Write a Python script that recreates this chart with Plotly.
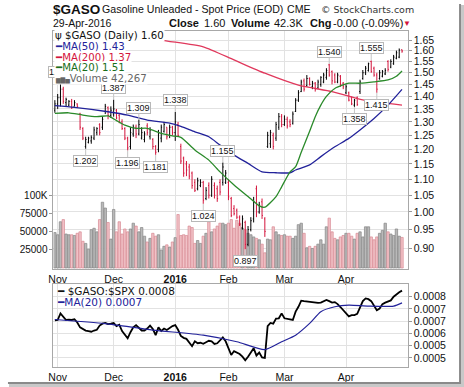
import plotly.graph_objects as go
import math

W, H = 464, 387


def px(x):
    return x / W


def py(y):
    return 1 - y / H


# ---------------- data ----------------
# trading-day index 0 = 30-Oct-2015 ... 124 = 29-Apr-2016
month_idx = [1, 21, 43, 62, 82, 104]
month_lbl = ["Nov", "Dec", "<b>2016</b>", "Feb", "Mar", "Apr"]

opens = [1.345, 1.370, 1.395, 1.430, 1.375, 1.365, 1.380, 1.360, 1.370, 1.330,
         1.275, 1.210, 1.225, 1.230, 1.240, 1.260, 1.290, 1.280, 1.340, 1.355,
         1.325, 1.330, 1.345, 1.325, 1.300, 1.275, 1.240, 1.210, 1.255, 1.280,
         1.255, 1.240, 1.235, 1.285, 1.245, 1.235, 1.210, 1.200, 1.240, 1.265,
         1.280, 1.250, 1.280, 1.260, 1.290, 1.210, 1.170, 1.150, 1.140, 1.120,
         1.090, 1.070, 1.080, 1.090, 1.040, 1.080, 1.050, 1.080, 1.070, 1.090,
         1.090, 1.090, 1.090, 1.040, 1.010, 1.005, 0.985, 0.955, 0.970, 0.910,
         0.950, 0.980, 1.070, 1.000, 1.030, 0.980, 1.210, 1.220, 1.250, 1.240,
         1.280, 1.320, 1.290, 1.310, 1.300, 1.295, 1.340, 1.385, 1.420, 1.465,
         1.445, 1.475, 1.440, 1.455, 1.435, 1.450, 1.460, 1.480, 1.535, 1.505,
         1.490, 1.460, 1.485, 1.455, 1.415, 1.415, 1.395, 1.365, 1.395, 1.420,
         1.475, 1.500, 1.510, 1.550, 1.520, 1.490, 1.475, 1.485, 1.495, 1.550,
         1.525, 1.540, 1.565, 1.570, 1.604]
highs = [1.385, 1.410, 1.452, 1.440, 1.395, 1.385, 1.390, 1.385, 1.372, 1.335,
         1.280, 1.245, 1.245, 1.250, 1.282, 1.280, 1.295, 1.320, 1.370, 1.360,
         1.360, 1.387, 1.350, 1.330, 1.310, 1.280, 1.245, 1.280, 1.290, 1.290,
         1.309, 1.280, 1.265, 1.295, 1.280, 1.240, 1.215, 1.270, 1.290, 1.300,
         1.280, 1.290, 1.285, 1.338, 1.300, 1.220, 1.175, 1.160, 1.150, 1.125,
         1.100, 1.105, 1.100, 1.095, 1.075, 1.090, 1.110, 1.090, 1.080, 1.100,
         1.155, 1.130, 1.100, 1.045, 1.020, 1.010, 0.990, 0.990, 0.975, 0.960,
         0.985, 1.045, 1.080, 1.030, 1.040, 0.985, 1.263, 1.270, 1.260, 1.300,
         1.334, 1.330, 1.325, 1.320, 1.310, 1.340, 1.393, 1.426, 1.470, 1.475,
         1.490, 1.480, 1.465, 1.460, 1.470, 1.485, 1.500, 1.520, 1.540, 1.510,
         1.498, 1.500, 1.490, 1.460, 1.450, 1.420, 1.400, 1.390, 1.400, 1.470,
         1.512, 1.530, 1.545, 1.555, 1.527, 1.500, 1.512, 1.512, 1.520, 1.556,
         1.560, 1.580, 1.600, 1.610, 1.605]
lows = [1.335, 1.350, 1.360, 1.370, 1.360, 1.360, 1.350, 1.360, 1.355, 1.270,
        1.233, 1.202, 1.221, 1.220, 1.233, 1.250, 1.250, 1.270, 1.330, 1.310,
        1.315, 1.320, 1.310, 1.295, 1.270, 1.233, 1.196, 1.200, 1.245, 1.240,
        1.250, 1.235, 1.225, 1.250, 1.235, 1.200, 1.181, 1.190, 1.225, 1.260,
        1.235, 1.240, 1.250, 1.230, 1.245, 1.150, 1.108, 1.110, 1.100, 1.070,
        1.060, 1.065, 1.075, 1.024, 1.035, 1.040, 1.045, 1.040, 1.030, 1.050,
        1.080, 1.085, 1.035, 0.985, 0.990, 0.980, 0.960, 0.950, 0.897, 0.905,
        0.945, 0.970, 0.985, 0.995, 0.980, 0.930, 1.205, 1.205, 1.200, 1.230,
        1.270, 1.280, 1.285, 1.275, 1.280, 1.290, 1.338, 1.378, 1.418, 1.420,
        1.440, 1.445, 1.430, 1.420, 1.430, 1.440, 1.455, 1.470, 1.483, 1.450,
        1.455, 1.455, 1.440, 1.430, 1.410, 1.380, 1.365, 1.358, 1.362, 1.410,
        1.470, 1.490, 1.505, 1.500, 1.483, 1.415, 1.470, 1.480, 1.490, 1.505,
        1.520, 1.535, 1.560, 1.565, 1.590]
closes = [1.370, 1.395, 1.430, 1.380, 1.388, 1.380, 1.355, 1.375, 1.360, 1.280,
          1.240, 1.235, 1.240, 1.242, 1.270, 1.275, 1.260, 1.310, 1.360, 1.325,
          1.345, 1.350, 1.315, 1.300, 1.275, 1.240, 1.205, 1.260, 1.280, 1.255,
          1.290, 1.260, 1.255, 1.260, 1.270, 1.210, 1.190, 1.260, 1.280, 1.290,
          1.245, 1.280, 1.260, 1.300, 1.250, 1.160, 1.120, 1.130, 1.110, 1.080,
          1.065, 1.095, 1.090, 1.035, 1.065, 1.050, 1.100, 1.050, 1.040, 1.060,
          1.140, 1.120, 1.045, 0.990, 0.995, 0.985, 0.965, 0.980, 0.910, 0.950,
          0.975, 1.030, 1.000, 1.020, 0.990, 0.945, 1.250, 1.260, 1.210, 1.290,
          1.320, 1.290, 1.310, 1.285, 1.290, 1.330, 1.385, 1.415, 1.460, 1.430,
          1.475, 1.450, 1.455, 1.430, 1.460, 1.480, 1.490, 1.510, 1.490, 1.465,
          1.460, 1.490, 1.450, 1.440, 1.440, 1.385, 1.370, 1.385, 1.368, 1.460,
          1.500, 1.520, 1.540, 1.505, 1.490, 1.430, 1.500, 1.505, 1.510, 1.515,
          1.550, 1.570, 1.590, 1.602, 1.598]
volume = [49000, 46000, 64000, 67000, 47000, 46000, 46000, 45000, 48000, 50000,
          37000, 34000, 26000, 53000, 55000, 50000, 67000, 91000, 83000, 63000,
          40000, 81000, 50000, 64000, 47000, 54000, 50000, 54000, 62000, 58000,
          50000, 56000, 44000, 36000, 41000, 48000, 44000, 46000, 25000, 30000,
          32000, 29000, 36000, 42000, 74000, 45000, 46000, 45000, 58000, 56000,
          34000, 38000, 34000, 44000, 48000, 64000, 50000, 54000, 58000, 62000,
          62000, 60000, 62000, 67000, 55000, 66000, 62000, 55000, 53000, 48000,
          46000, 43000, 41000, 39000, 33000, 21000, 40000, 39000, 57000, 50000,
          46000, 45000, 46000, 44000, 44000, 41000, 44000, 60000, 62000, 48000,
          28000, 30000, 27000, 30000, 33000, 39000, 33000, 57000, 69000, 50000,
          41000, 39000, 43000, 45000, 48000, 48000, 44000, 40000, 48000, 50000,
          43000, 57000, 57000, 43000, 39000, 43000, 48000, 52000, 62000, 50000,
          47000, 45000, 54000, 44000, 42267]

ma50_idx = [0, 7, 19, 26, 33, 41, 45, 50, 55, 59, 64, 69, 74, 79, 84, 86, 91, 95, 100, 105, 109, 114, 119, 124]
ma50_val = [1.363, 1.356, 1.339, 1.326, 1.307, 1.295, 1.283, 1.263, 1.245, 1.215, 1.180, 1.152,
            1.124, 1.121, 1.121, 1.130, 1.147, 1.175, 1.209, 1.239, 1.270, 1.313, 1.365, 1.429]
ma200_idx = [20, 30, 38, 53, 64, 75, 87, 99, 110, 124]
ma200_val = [1.700, 1.675, 1.650, 1.618, 1.557, 1.498, 1.447, 1.420, 1.386, 1.365]
ma20_idx = [0, 5, 10, 15, 19, 22, 25, 29, 33, 38, 42, 45, 50, 55, 59, 64, 69, 73, 75, 79, 81, 84,
            86, 88, 91, 93, 95, 97, 100, 105, 109, 114, 119, 122, 124]
ma20_val = [1.333, 1.335, 1.326, 1.320, 1.323, 1.305, 1.288, 1.276, 1.276, 1.257, 1.248, 1.243,
            1.198, 1.163, 1.124, 1.082, 1.046, 1.018, 1.014, 1.046, 1.076, 1.124, 1.141, 1.190,
            1.265, 1.320, 1.365, 1.400, 1.433, 1.455, 1.455, 1.461, 1.469, 1.485, 1.508]

ratio = [0.000704, 0.000705, 0.000732, 0.000720, 0.000705, 0.000706, 0.000705, 0.000708, 0.000695, 0.000675,
         0.000668, 0.000662, 0.000660, 0.000657, 0.000662, 0.000665, 0.000682, 0.000690, 0.000693, 0.000688,
         0.000690, 0.000693, 0.000680, 0.000686, 0.000660, 0.000643, 0.000630, 0.000655, 0.000675, 0.000684,
         0.000672, 0.000662, 0.000662, 0.000670, 0.000682, 0.000668, 0.000643, 0.000675, 0.000660, 0.000670,
         0.000664, 0.000672, 0.000680, 0.000684, 0.000665, 0.000640, 0.000632, 0.000628, 0.000612, 0.000598,
         0.000618, 0.000610, 0.000612, 0.000608, 0.000614, 0.000620, 0.000618, 0.000607, 0.000610, 0.000622,
         0.000634, 0.000618, 0.000590, 0.000562, 0.000578, 0.000572, 0.000566, 0.000555, 0.000540, 0.000555,
         0.000575, 0.000590, 0.000560, 0.000572, 0.000552, 0.000550, 0.000680, 0.000693, 0.000690, 0.000711,
         0.000712, 0.000732, 0.000712, 0.000711, 0.000708, 0.000705, 0.000739, 0.000759, 0.000784, 0.000782,
         0.000780, 0.000778, 0.000778, 0.000776, 0.000775, 0.000776, 0.000782, 0.000787, 0.000782, 0.000776,
         0.000778, 0.000770, 0.000758, 0.000745, 0.000734, 0.000720, 0.000725, 0.000725, 0.000730, 0.000760,
         0.000782, 0.000793, 0.000790, 0.000782, 0.000765, 0.000745, 0.000752, 0.000770, 0.000776, 0.000780,
         0.000785, 0.000800, 0.000810, 0.000818, 0.000825]
rma_idx = [0, 18, 35, 53, 65, 75, 81, 86, 91, 95, 100, 105, 112, 121, 124]
rma_val = [0.000707, 0.000690, 0.000664, 0.000643, 0.000616, 0.000584, 0.000616, 0.000643, 0.000691,
           0.000739, 0.000759, 0.000766, 0.000762, 0.000762, 0.000775]

price_ticks = [0.90, 0.95, 1.00, 1.05, 1.10, 1.15, 1.20, 1.25, 1.30, 1.35, 1.40, 1.45, 1.50, 1.55, 1.60, 1.65]
vol_ticks = [25000, 50000, 75000, 100000]
vol_tick_lbl = ["25000", "50000", "75000", "100K"]
ratio_ticks = [0.00080, 0.00075, 0.00070, 0.00065, 0.00060, 0.00055]
ratio_tick_lbl = ["0.0008", "0.0007", "0.0007", "0.0006", "0.0005", "0.0005"]

hi_labels = [2, 21, 30, 43, 60, 98, 113]
lo_labels = [11, 26, 36, 53, 68, 107, 115]

# ---------------- styling ----------------
BLACK = "#000000"
RED = "#d4143c"
NAVY = "#22229a"
MA200C = "#e0385c"
GREEN = "#2a8a2a"
GRID = "#e2e2e2"
FRAME = "#a8a8a8"
ARIAL = "Liberation Sans, Arial, sans-serif"
VERD = "DejaVu Sans, Verdana, sans-serif"

days = list(range(len(closes)))
up = [c >= o for o, c in zip(opens, closes)]
vol_fill = ["#b9b9b9" if u else "#f1c2c7" for u in up]
vol_edge = ["#858585" if u else "#d88a94" for u in up]

fig = go.Figure()
fig.add_trace(go.Bar(x=days, y=volume, xaxis="x", yaxis="y", width=0.86,
                     marker=dict(color=vol_fill, line=dict(color=vol_edge, width=0.7)),
                     hoverinfo="skip"))
fig.add_trace(go.Ohlc(x=days, open=opens, high=highs, low=lows, close=closes,
                      xaxis="x", yaxis="y2", tickwidth=0.3,
                      increasing=dict(line=dict(color=BLACK, width=1.0)),
                      decreasing=dict(line=dict(color=RED, width=1.0)),
                      hoverinfo="skip"))
fig.add_trace(go.Scatter(x=ma200_idx, y=ma200_val, xaxis="x", yaxis="y2", mode="lines",
                         line=dict(color=MA200C, width=1.3, shape="spline", smoothing=0.6)))
fig.add_trace(go.Scatter(x=ma50_idx, y=ma50_val, xaxis="x", yaxis="y2", mode="lines",
                         line=dict(color=NAVY, width=1.3, shape="spline", smoothing=0.6)))
fig.add_trace(go.Scatter(x=ma20_idx, y=ma20_val, xaxis="x", yaxis="y2", mode="lines",
                         line=dict(color=GREEN, width=1.3, shape="spline", smoothing=0.6)))
fig.add_trace(go.Scatter(x=days, y=ratio, xaxis="x2", yaxis="y3", mode="lines",
                         line=dict(color=BLACK, width=1.8)))
fig.add_trace(go.Scatter(x=rma_idx, y=rma_val, xaxis="x2", yaxis="y3", mode="lines",
                         line=dict(color=NAVY, width=1.2, shape="spline", smoothing=0.6)))

xr = [-0.5, 126.0]
xdom = [px(49), px(407)]
common_x = dict(range=xr, domain=xdom, tickmode="array", tickvals=month_idx, ticktext=month_lbl,
                showgrid=True, gridcolor=GRID, gridwidth=1, zeroline=False, ticks="",
                showline=True, mirror=True, linecolor=FRAME, linewidth=1,
                tickfont=dict(family=ARIAL, size=10.5, color="#111"), fixedrange=True)

fig.update_layout(
    width=W, height=H, margin=dict(l=0, r=0, t=0, b=0),
    paper_bgcolor="white", plot_bgcolor="white", showlegend=False,
    hovermode=False, bargap=0,
    xaxis=dict(anchor="y", rangeslider=dict(visible=False), **common_x),
    yaxis=dict(domain=[py(269), py(31)], range=[-1400, 328000], side="left",
               tickmode="array", tickvals=vol_ticks, ticktext=vol_tick_lbl,
               showgrid=False, zeroline=False, ticks="outside", ticklen=3, tickcolor="#999",
               showline=True, mirror=True, linecolor=FRAME,
               tickfont=dict(family=ARIAL, size=10, color="#111"), fixedrange=True),
    yaxis2=dict(overlaying="y", anchor="x", side="right", type="log",
                range=[math.log10(0.847), math.log10(1.694)],
                tickmode="array", tickvals=price_ticks, ticktext=["%.2f" % t for t in price_ticks],
                showgrid=True, gridcolor=GRID, zeroline=False, ticks="outside", ticklen=3,
                tickcolor="#999", tickfont=dict(family=ARIAL, size=10.5, color="#111"),
                fixedrange=True),
    xaxis2=dict(anchor="y3", **common_x),
    yaxis3=dict(domain=[py(367), py(284)], range=[0.000513, 0.000852], side="right", anchor="x2",
                tickmode="array", tickvals=ratio_ticks, ticktext=ratio_tick_lbl,
                showgrid=True, gridcolor=GRID, zeroline=False, ticks="outside", ticklen=3,
                tickcolor="#999", showline=True, mirror=True, linecolor=FRAME,
                tickfont=dict(family=ARIAL, size=10.5, color="#111"), fixedrange=True),
)

ann = []
# price high / low call-outs
for i in hi_labels:
    ann.append(dict(x=i, y=math.log10(highs[i]), xref="x", yref="y2", text="%.3f" % highs[i],
                    showarrow=True, arrowhead=0, arrowwidth=1, arrowcolor="#c4c4c4", ax=0, ay=-12,
                    bgcolor="white", bordercolor="#b8b8b8", borderwidth=1, borderpad=0,
                    font=dict(family=ARIAL, size=9, color="#111")))
for i in lo_labels:
    ann.append(dict(x=i, y=math.log10(lows[i]), xref="x", yref="y2", text="%.3f" % lows[i],
                    showarrow=True, arrowhead=0, arrowwidth=1, arrowcolor="#c4c4c4", ax=0, ay=12,
                    bgcolor="white", bordercolor="#b8b8b8", borderwidth=1, borderpad=0,
                    font=dict(family=ARIAL, size=9, color="#111")))


def txt(x, y, s, size=10.5, color="#111", family=ARIAL, anchor="left", bg=None):
    d = dict(x=px(x), y=py(y), xref="paper", yref="paper", text=s, showarrow=False,
             xanchor=anchor, yanchor="middle", font=dict(family=family, size=size, color=color))
    if bg:
        d.update(bgcolor=bg, borderpad=0)
    return d


# legend rows (main panel)
ann += [
    txt(50, 36, "ψ $GASO (Daily) 1.60", 10.2, "#111", VERD, bg="white"),
    txt(50, 46.6, "━MA(50) 1.43", 10.2, NAVY, VERD, bg="white"),
    txt(50, 57.2, "━MA(200) 1.37", 10.2, RED, VERD, bg="white"),
    txt(50, 67.8, "━MA(20) 1.51", 10.2, "#1a6e1a", VERD, bg="white"),
    txt(50, 78.4, "<span style='font-size:6px'>▆▇▅</span>Volume 42,267", 10.2, "#666", VERD, bg="white"),
    # lower panel legend
    txt(51, 290.7, "━ $GASO:$SPX 0.0008", 10.5, "#111", VERD),
    txt(51, 301.7, "━MA(20) 0.0007", 10.5, NAVY, VERD),
    # header
    txt(47, 9, "<b>$GASO</b>", 13.5, "#111"),
    txt(96, 9, "Gasoline Unleaded - Spot Price (EOD)", 10.6, "#111"),
    txt(283, 9, "CME", 10.6, "#111"),
    txt(317, 9, "© StockCharts.com", 9.5, "#333", VERD),
    txt(47, 23, "29-Apr-2016", 10.5, "#111"),
    txt(164, 23, "<b>Close</b>", 11, "#111"),
    txt(199, 23, "1.60", 11, "#111"),
    txt(226, 23, "<b>Volume</b>", 11, "#111"),
    txt(270, 23, "42.3K", 11, "#111"),
    txt(306, 23, "<b>Chg</b>", 11, "#111"),
    txt(330, 23, "-0.00 (-0.09%)", 11, "#111"),
    txt(400, 23, "▼", 8, RED),
]
fig.update_layout(annotations=ann)

# drop shadow of the chart card
fig.update_layout(shapes=[
    dict(type="rect", xref="paper", yref="paper", x0=px(459), x1=px(461), y0=py(384), y1=py(4),
         fillcolor="#8a8a8a", line=dict(width=0), layer="above"),
    dict(type="rect", xref="paper", yref="paper", x0=px(461), x1=px(464), y0=py(386), y1=py(5),
         fillcolor="#c8c8c8", line=dict(width=0), layer="above"),
    dict(type="rect", xref="paper", yref="paper", x0=px(3), x1=px(461), y0=py(384), y1=py(382),
         fillcolor="#8a8a8a", line=dict(width=0), layer="above"),
    dict(type="rect", xref="paper", yref="paper", x0=px(4), x1=px(464), y0=py(387), y1=py(384),
         fillcolor="#c8c8c8", line=dict(width=0), layer="above"),
])

fig.write_html("out.html", include_plotlyjs=True,
               config={"displayModeBar": False, "staticPlot": True},
               post_script="document.body.style.margin='0px';document.body.style.padding='0px';"
                           "document.documentElement.style.overflow='hidden';")
